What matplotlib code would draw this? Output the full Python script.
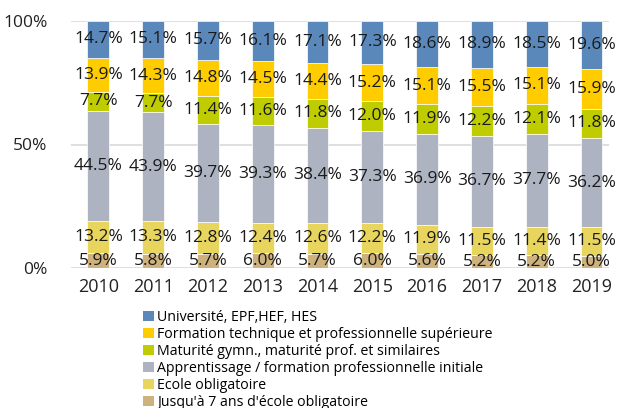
import matplotlib
matplotlib.use("Agg")
import matplotlib.pyplot as plt
import numpy as np
from matplotlib.patches import Patch

years = ["2010", "2011", "2012", "2013", "2014", "2015", "2016", "2017", "2018", "2019"]
jusqu7 = [5.9, 5.8, 5.7, 6.0, 5.7, 6.0, 5.6, 5.2, 5.2, 5.0]
ecole = [13.2, 13.3, 12.8, 12.4, 12.6, 12.2, 11.9, 11.5, 11.4, 11.5]
apprent = [44.5, 43.9, 39.7, 39.3, 38.4, 37.3, 36.9, 36.7, 37.7, 36.2]
maturite = [7.7, 7.7, 11.4, 11.6, 11.8, 12.0, 11.9, 12.2, 12.1, 11.8]
formation = [13.9, 14.3, 14.8, 14.5, 14.4, 15.2, 15.1, 15.5, 15.1, 15.9]
univ = [14.7, 15.1, 15.7, 16.1, 17.1, 17.3, 18.6, 18.9, 18.5, 19.6]

series = [
    ("Jusqu'à 7 ans d'école obligatoire", jusqu7, "#CDB27E"),
    ("Ecole obligatoire", ecole, "#E8D55E"),
    ("Apprentissage / formation professionnelle initiale", apprent, "#ADB3C1"),
    ("Maturité gymn., maturité prof. et similaires", maturite, "#BFCC00"),
    ("Formation technique et professionnelle supérieure", formation, "#FFCC00"),
    ("Université, EPF,HEF, HES", univ, "#5A88BA"),
]

plt.rcParams['font.family'] = ['Open Sans', 'DejaVu Sans']

fig = plt.figure(figsize=(6.17, 4.08), dpi=100)
ax = fig.add_axes([71/617, 1-268/408, (609-71)/617, (268-21)/408])

x = np.arange(len(years))
bottom = np.zeros(len(years))
for name, vals, col in series:
    v = np.array(vals)
    ax.bar(x, v, 0.40, bottom=bottom, color=col, edgecolor='white', linewidth=0.5, zorder=3)
    for xi, b, h in zip(x, bottom, v):
        ax.text(xi, b + h/2, f"{h:.1f}%", ha='center', va='center', fontsize=12.5,
                color='#1a1a1a', zorder=4)
    bottom += v

ax.set_xlim(-0.5, 9.32)
ax.set_ylim(0, 100)
ax.set_yticks([0, 50, 100])
ax.set_yticklabels(["0%", "50%", "100%"], fontsize=12.5, color='#222222')
ax.set_xticks(x)
ax.set_xticklabels(years, fontsize=13, color='#222222')
ax.tick_params(length=0, pad=7)
ax.tick_params(axis='y', pad=17)
for s in ax.spines.values():
    s.set_visible(False)
ax.grid(axis='y', color='#D9D9D9', linewidth=1.2, zorder=0)
ax.set_axisbelow(True)

handles = [Patch(facecolor=c, edgecolor='none') for _, _, c in series][::-1]
labels = [n for n, _, _ in series][::-1]
fig.legend(handles, labels, loc='upper left', bbox_to_anchor=(143/617, 1-310/408),
           frameon=False, fontsize=10.2, handlelength=0.8, handleheight=0.8,
           handletextpad=0.2, labelspacing=0.14, borderpad=0, borderaxespad=0)

fig.savefig("out.png", dpi=100)
